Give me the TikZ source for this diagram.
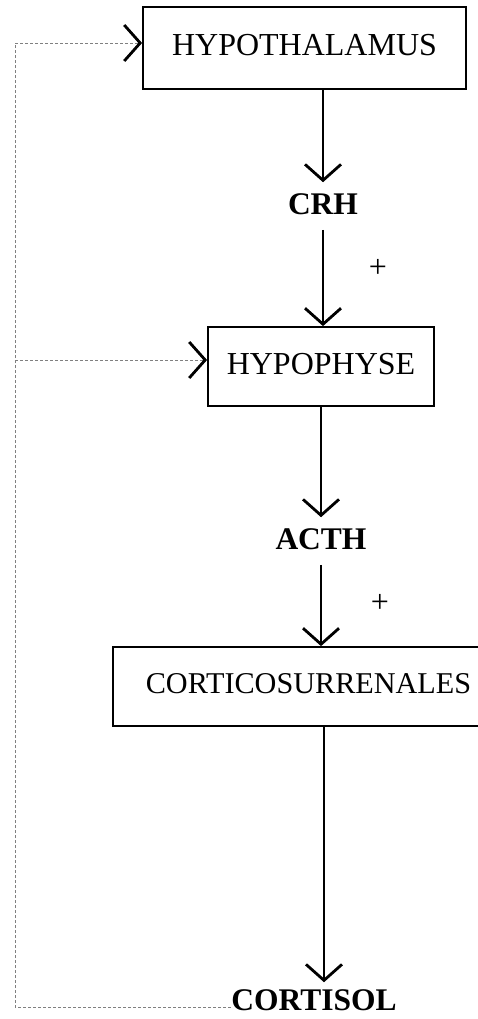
\documentclass[tikz,border=0pt]{standalone}
\usepackage{fontspec}
\setmainfont{Liberation Serif}
\usetikzlibrary{arrows.meta}

\begin{document}
\begin{tikzpicture}[x=1pt, y=-1pt,
        font=\fontsize{32}{36}\selectfont,
        boite/.style={draw, line width=1.8pt, inner sep=0pt, text depth=6pt},
        hormone/.style={font=\fontsize{31.5}{36}\selectfont\bfseries, inner sep=0pt},
        fleche/.style={line width=1.6pt, -{Straight Barb[length=16pt, width=36pt, line width=2.8pt]}},
        retro/.style={gray, line width=0.8pt, dash pattern=on 3pt off 2pt}]

        \useasboundingbox (0,0) rectangle (477,1019);

        % Glands
        \node [boite,
            minimum width=323,
            minimum height=82] (hypoth) at (304.5,48) {HYPOTHALAMUS};

        \node [boite,
            minimum width=226,
            minimum height=79] (hypoph) at (321,366.5) {HYPOPHYSE};

        \node [boite,
            font=\fontsize{30.2}{36}\selectfont,
            minimum width=391,
            minimum height=79] (cortico) at (308.5,686.5) {CORTICOSURRENALES};

        % Hormones
        \node [hormone] (crh) at (323,204) {CRH};
        \node [hormone] (acth) at (321,539) {ACTH};
        \node [hormone] (cortisol) at (314,1000) {CORTISOL};

        % Signs
        \node (plus1) at (378,268) {+};
        \node (plus2) at (380,603) {+};

        % Axis
        \draw [fleche, shorten >=11pt] (hypoth.south -| crh) -- (crh.north);
        \draw [fleche, shorten <=15pt] (crh.south) -- (crh.south |- hypoph.north);
        \draw [fleche, shorten >=11pt] (hypoph.south -| acth) -- (acth.north);
        \draw [fleche, shorten <=15pt] (acth.south) -- (acth.south |- cortico.north);
        \draw [fleche, shorten >=7pt] (cortico.south -| 324,0) -- (cortisol.north -| 324,0);

        % Feedback
        \coordinate (coin) at (15,1007);
        \coordinate (haut) at (15,43);
        \coordinate (milieu) at (15,360);
        \draw [retro] ([yshift=-7pt]cortisol.west) -- (coin) -- (haut);
        \draw [retro, -{Straight Barb[black, length=16pt, width=36pt, line width=2.8pt]}]
            (haut) -- (haut -| hypoth.west);
        \draw [retro, -{Straight Barb[black, length=16pt, width=36pt, line width=2.8pt]}]
            (milieu) -- (milieu -| hypoph.west);

\end{tikzpicture}
\end{document}
